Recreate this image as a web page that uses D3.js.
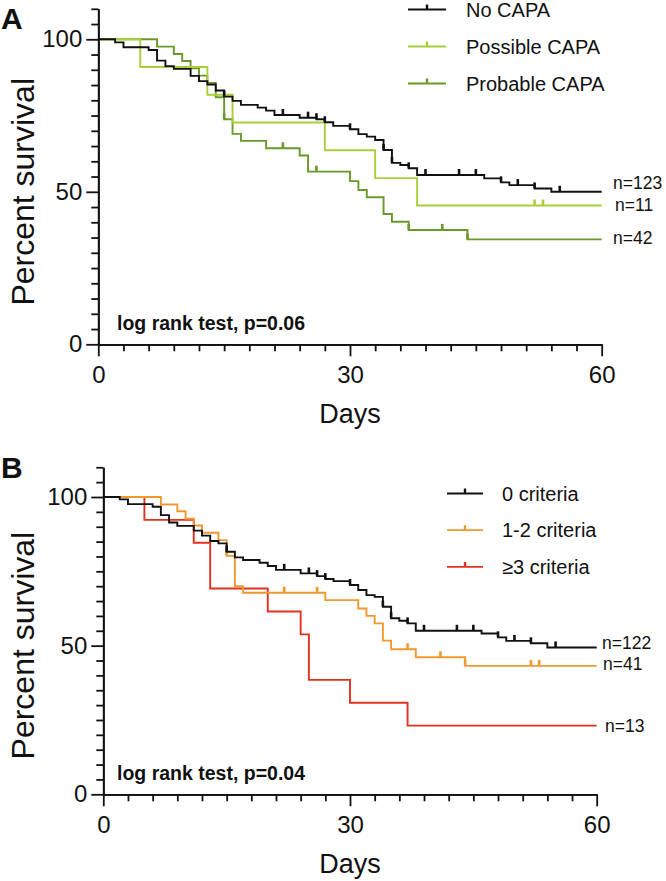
<!DOCTYPE html>
<html><head><meta charset="utf-8">
<script src="https://cdn.jsdelivr.net/npm/d3@7"></script>
<style>body{margin:0;background:#fff} svg{display:block} text{font-family:"Liberation Sans",Arial,Helvetica,sans-serif}</style>
</head><body><svg id="c" width="666" height="881"></svg>
<script>
// ---------- shared ticks ----------
const xMajorTicks = [0, 30, 60];
const yMajorTicks = [0, 50, 100];
const xMinorStep = 3, yMinorStep = 5;

// ---------- Panel A ----------
const labelsA = ["No CAPA", "Possible CAPA", "Probable CAPA"];
const nLabelsA = ["n=123", "n=11", "n=42"];
const colorsA = ["#111111", "#a8cf3a", "#6a992b"];
const timesA0 = [2, 3, 6, 7, 8, 9, 11, 12, 13, 14, 15, 16, 17, 19, 20, 21, 24, 26, 27, 28, 30, 31, 32, 33, 34, 35, 36, 37, 38, 46, 48, 49, 52, 54];
const survA0  = [99.0, 97.4, 96.5, 93.0, 91.2, 90.3, 88.0, 86.3, 85.2, 83.2, 81.2, 79.8, 78.5, 77.6, 76.6, 75.2, 74.3, 73.8, 72.8, 71.6, 70.5, 68.9, 68.1, 67.0, 63.7, 59.5, 58.8, 57.7, 55.5, 54.4, 53.1, 52.2, 51.1, 50.0];
const censA0  = [15, 22, 25, 26, 27, 30, 34, 35, 37, 39, 43, 45, 48, 50, 52, 55];
const timesA1 = [5, 13, 16, 27, 33, 38];
const survA1  = [90.9, 81.8, 72.7, 63.6, 54.5, 45.5];
const censA1  = [52, 53];
const timesA2 = [7, 9, 10, 11, 12, 13, 14, 15, 16, 17, 20, 24, 25, 30, 31, 32, 34, 35, 37, 44];
const survA2  = [97.6, 95.2, 92.9, 90.5, 88.1, 85.7, 81.0, 73.8, 69.0, 66.7, 64.3, 61.9, 56.6, 53.5, 50.6, 48.2, 42.7, 40.2, 37.5, 34.4];
const censA2  = [15, 22, 26, 37, 41, 44];

// ---------- Panel B ----------
const labelsB = ["0 criteria", "1-2 criteria", "\u22653 criteria"];
const nLabelsB = ["n=122", "n=41", "n=13"];
const colorsB = ["#111111", "#f0992e", "#e2321f"];
const timesB0 = [2, 3, 6, 7, 8, 9, 11, 12, 13, 14, 15, 16, 17, 19, 20, 21, 24, 26, 27, 28, 30, 31, 32, 33, 34, 35, 36, 37, 38, 46, 48, 49, 52, 54];
const survB0  = [99.2, 97.6, 96.7, 93.9, 91.4, 90.3, 88.7, 87.0, 85.2, 84.4, 81.6, 79.7, 78.8, 77.9, 76.8, 75.5, 74.3, 73.4, 72.4, 71.7, 70.4, 68.7, 67.0, 66.4, 63.1, 59.2, 58.4, 57.5, 55.0, 54.1, 52.8, 51.6, 50.8, 49.4];
const censB0  = [15, 22, 25, 26, 27, 30, 34, 35, 37, 39, 43, 45, 48, 50, 52, 55];
const timesB1 = [7, 9, 10, 11, 12, 14, 15, 16, 17, 27, 31, 32, 33, 34, 35, 38, 44];
const survB1  = [97.5, 95.2, 92.7, 90.4, 88.0, 85.5, 80.2, 70.0, 67.8, 65.3, 62.5, 60.0, 57.5, 51.7, 48.8, 46.1, 43.2];
const censB1  = [15, 22, 26, 37, 41, 44, 52, 53];
const timesB2 = [5, 11, 13, 20, 24, 25, 30, 37];
const survB2  = [92.3, 84.6, 69.2, 61.5, 53.8, 38.5, 30.8, 23.1];
const censB2  = [];

const svg = d3.select("#c");
const FONT = '"Liberation Sans",Arial,Helvetica,sans-serif';

function stepValue(times, surv, t) {
  let v = 100;
  for (let i = 0; i < times.length; i++) if (times[i] <= t) v = surv[i];
  return v;
}

function drawPanel(cfg) {
  const x = d3.scaleLinear().domain([0, 60]).range(cfg.xr);
  const y = d3.scaleLinear().domain([0, 110]).range([cfg.y0, cfg.y0 - 110 * cfg.yk]);
  const g = svg.append("g");

  const line = d3.line().x(d => x(d[0])).y(d => y(d[1])).curve(d3.curveStepAfter);
  for (let i = cfg.series.length - 1; i >= 0; i--) {
    const s = cfg.series[i];
    const pts = [[0, 100]].concat(s.t.map((t, j) => [t, s.s[j]]));
    pts.push([60, s.s[s.s.length - 1]]);
    g.append("path").attr("d", line(pts)).attr("fill", "none")
      .attr("stroke", s.color).attr("stroke-width", 1.9);
    s.c.forEach(t => {
      const v = stepValue(s.t, s.s, t);
      g.append("line").attr("x1", x(t)).attr("x2", x(t))
        .attr("y1", y(v)).attr("y2", y(v) - 6)
        .attr("stroke", s.color).attr("stroke-width", 2.6);
    });
  }

  // y axis
  const yMinor = d3.range(0, 111, yMinorStep).filter(v => !yMajorTicks.includes(v));
  const ax = g.append("g").attr("transform", `translate(${cfg.xr[0]},0)`);
  ax.call(d3.axisLeft(y).tickValues(yMinor).tickSize(7).tickSizeOuter(0).tickFormat(""));
  ax.append("g").call(d3.axisLeft(y).tickValues(yMajorTicks).tickSize(12).tickSizeOuter(0).tickPadding(4));
  // x axis
  const xMinor = d3.range(0, 61, xMinorStep).filter(v => !xMajorTicks.includes(v));
  const bx = g.append("g").attr("transform", `translate(0,${cfg.y0})`);
  bx.call(d3.axisBottom(x).tickValues(xMinor).tickSize(7).tickSizeOuter(0).tickFormat(""));
  bx.append("g").call(d3.axisBottom(x).tickValues(xMajorTicks).tickSize(12).tickSizeOuter(0).tickPadding(10));
  g.selectAll(".domain").attr("stroke", "#111").attr("stroke-width", 1.8);
  g.selectAll(".tick line").attr("stroke", "#111").attr("stroke-width", 1.8);
  g.selectAll(".tick text").attr("font-family", FONT).attr("font-size", 24).attr("fill", "#111");

  // axis titles
  g.append("text").attr("x", (cfg.xr[0] + cfg.xr[1]) / 2).attr("y", cfg.y0 + 79)
    .attr("text-anchor", "middle").attr("font-size", 27).attr("fill", "#111").text("Days");
  g.append("text").attr("transform", `translate(34,${(y(0) + y(100)) / 2}) rotate(-90)`)
    .attr("text-anchor", "middle").attr("font-size", 32).attr("fill", "#111").text("Percent survival");

  // panel letter
  g.append("text").attr("x", 1).attr("y", cfg.letterY).attr("font-size", 30)
    .attr("font-weight", "bold").attr("fill", "#111").text(cfg.letter);

  // log rank
  g.append("text").attr("x", 117).attr("y", cfg.y0 - 14).attr("font-size", 19.5)
    .attr("font-weight", "bold").attr("fill", "#111").text(cfg.test);

  // n labels
  cfg.series.forEach((s, i) => {
    g.append("text").attr("x", cfg.nx[i]).attr("y", cfg.ny[i]).attr("font-size", 17.5)
      .attr("fill", "#111").text(s.n);
  });

  // legend
  cfg.series.forEach((s, i) => {
    const ly = cfg.legY + i * cfg.legDy;
    g.append("line").attr("x1", cfg.legX[0]).attr("x2", cfg.legX[1]).attr("y1", ly).attr("y2", ly)
      .attr("stroke", s.color).attr("stroke-width", 1.8);
    const cx = (cfg.legX[0] + cfg.legX[1]) / 2;
    g.append("line").attr("x1", cx).attr("x2", cx).attr("y1", ly).attr("y2", ly - 5)
      .attr("stroke", s.color).attr("stroke-width", 2.4);
    g.append("text").attr("x", cfg.legText).attr("y", ly + 7).attr("font-size", 20)
      .attr("fill", "#111").text(s.label);
  });
}

drawPanel({
  letter: "A", letterY: 29, test: "log rank test, p=0.06",
  xr: [98.3, 601.7], y0: 344.3, yk: 3.05,
  nx: [613, 615, 613], ny: [189, 211, 244],
  legX: [408, 446], legText: 466, legY: 9.5, legDy: 37,
  series: [
    {t: timesA0, s: survA0, c: censA0, color: colorsA[0], label: labelsA[0], n: nLabelsA[0]},
    {t: timesA1, s: survA1, c: censA1, color: colorsA[1], label: labelsA[1], n: nLabelsA[1]},
    {t: timesA2, s: survA2, c: censA2, color: colorsA[2], label: labelsA[2], n: nLabelsA[2]}
  ]
});
drawPanel({
  letter: "B", letterY: 478, test: "log rank test, p=0.04",
  xr: [103.3, 596.7], y0: 794.3, yk: 2.973,
  nx: [602, 603, 605], ny: [649, 670, 732],
  legX: [447, 483], legText: 502, legY: 493.5, legDy: 36.7,
  series: [
    {t: timesB0, s: survB0, c: censB0, color: colorsB[0], label: labelsB[0], n: nLabelsB[0]},
    {t: timesB1, s: survB1, c: censB1, color: colorsB[1], label: labelsB[1], n: nLabelsB[1]},
    {t: timesB2, s: survB2, c: censB2, color: colorsB[2], label: labelsB[2], n: nLabelsB[2]}
  ]
});
</script></body></html>
